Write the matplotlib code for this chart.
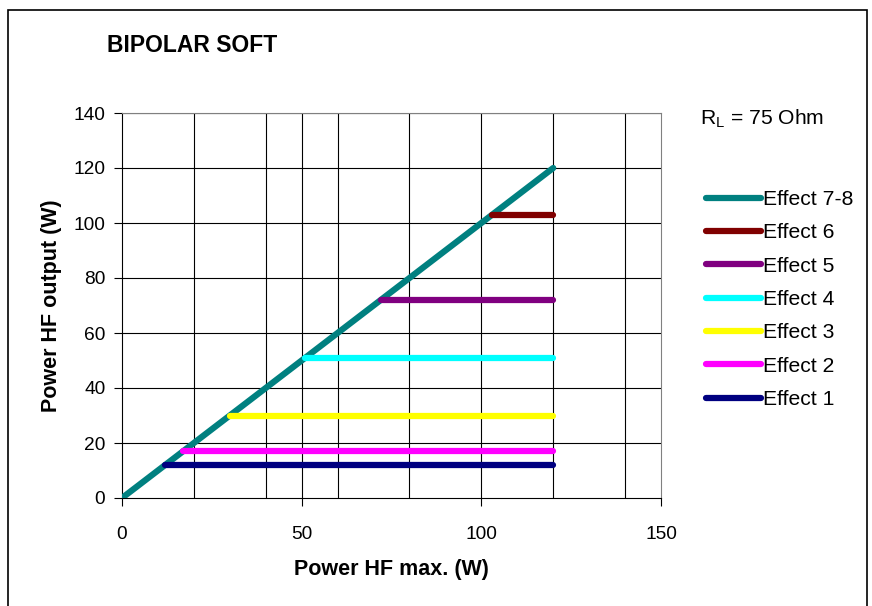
import numpy as np
import matplotlib.pyplot as plt
from matplotlib.patches import Rectangle

plt.rcParams['font.family'] = ['Liberation Sans', 'DejaVu Sans']

# data
labels = ['Effect 7-8', 'Effect 6', 'Effect 5', 'Effect 4', 'Effect 3', 'Effect 2', 'Effect 1']
colors = ['#008080', '#800000', '#800080', '#00FFFF', '#FFFF00', '#FF00FF', '#000080']
x_start = [0, 103, 72, 51, 30, 17, 12]
x_end = [120, 120, 120, 120, 120, 120, 120]
y_start = [0, 103, 72, 51, 30, 17, 12]
y_end = [120, 103, 72, 51, 30, 17, 12]

fig = plt.figure(figsize=(8.72, 6.06), dpi=100)
ax = fig.add_axes([122/872, 1 - 498/606, (661-122)/872, (498-113)/606])

# figure frame
fig.patches.append(Rectangle((8/872, -0.05), (867-8)/872, 1.05 - 10/606,
                             transform=fig.transFigure, fill=False,
                             edgecolor='black', linewidth=1.2))

for i in range(len(labels)):
    ax.plot([x_start[i], x_end[i]], [y_start[i], y_end[i]], color=colors[i],
            linewidth=4.5, solid_capstyle='round', label=labels[i], zorder=3)

ax.set_xlim(0, 150)
ax.set_ylim(0, 140)
ax.set_xticks([0, 50, 100, 150])
ax.set_yticks(np.arange(0, 141, 20))
for gx in [20, 40, 50, 60, 80, 100, 120, 140]:
    ax.axvline(gx, color='black', linewidth=0.8, zorder=1)
for gy in range(20, 141, 20):
    ax.axhline(gy, color='black', linewidth=0.8, zorder=1)

ax.tick_params(direction='out', length=6, width=0.8, labelsize=13.8, pad=6)
ax.tick_params(axis='x', pad=14)
for s in ['top', 'right']:
    ax.spines[s].set_color('#808080')
for s in ['left', 'bottom']:
    ax.spines[s].set_color('black')

ax.set_xlabel('Power HF max. (W)', fontsize=15.5, fontweight='bold', labelpad=12)
ax.set_ylabel('Power HF output (W)', fontsize=15.5, fontweight='bold', labelpad=8)

fig.text(107/872, 1 - 45/606, 'BIPOLAR SOFT', fontsize=16.5, fontweight='bold', va='center')
fig.text(700/872, 1 - 119/606, r'R$_\mathregular{L}$ = 75 Ohm', fontsize=15.2, va='center')

ax.legend(loc='upper left', bbox_to_anchor=(706/872, 1 - 190/606), bbox_transform=fig.transFigure,
          frameon=False, fontsize=15.2, handlelength=2.6, handletextpad=0.1,
          labelspacing=0.68, borderpad=0, borderaxespad=0)

plt.savefig('out.png', dpi=100)
